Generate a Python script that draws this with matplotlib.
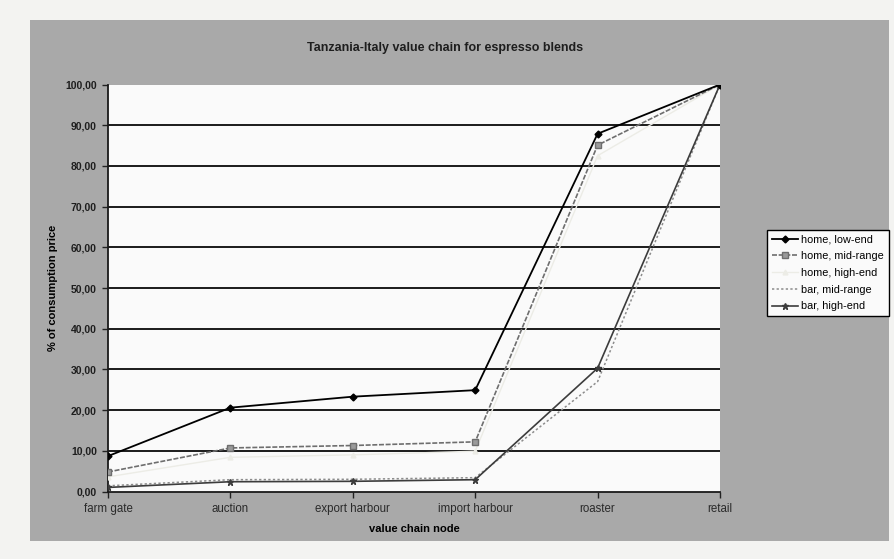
import matplotlib.pyplot as plt
import numpy as np
from matplotlib.patches import Rectangle
from matplotlib.ticker import FuncFormatter

plt.rcParams['font.family'] = ['Liberation Sans', 'DejaVu Sans']

# Data: share of consumption price at each node of the chain
nodes = ['farm gate', 'auction', 'export harbour', 'import harbour', 'roaster', 'retail']
home_low = [8.7, 20.6, 23.3, 24.9, 87.9, 100.0]
home_mid = [4.8, 10.7, 11.3, 12.2, 85.1, 100.0]
home_high = [3.6, 8.4, 9.0, 9.9, 82.5, 100.0]
bar_mid = [1.4, 2.9, 3.0, 3.4, 27.0, 100.0]
bar_high = [1.0, 2.4, 2.5, 2.9, 30.3, 100.0]
y_ticks = np.arange(0, 101, 10)

x = np.arange(len(nodes))

fig = plt.figure(figsize=(8.94, 5.59), dpi=100)
fig.patch.set_facecolor('#f3f3f1')
# grey chart area behind the plot
fig.patches.append(Rectangle((30 / 894, 18 / 559), 859 / 894, 521 / 559,
                             transform=fig.transFigure, facecolor='#a9a9a9',
                             edgecolor='none', zorder=-10))

ax = fig.add_axes([108 / 894, 67.5 / 559, 612 / 894, 407 / 559])
ax.set_facecolor('#fafafa')

ax.plot(x, home_low, color='black', lw=1.3, marker='D', ms=3.5, label='home, low-end', zorder=5)
ax.plot(x, home_mid, color='#6e6e6e', lw=1.2, ls=(0, (3, 1)), marker='s', ms=4,
        mfc='#9a9a9a', mec='#6e6e6e', label='home, mid-range', zorder=4)
ax.plot(x, home_high, color='#ecece6', lw=1.0, marker='^', ms=3.5,
        label='home, high-end', zorder=3)
ax.plot(x, bar_mid, color='#8c8c8c', lw=1.1, ls=(0, (1.5, 1.5)), label='bar, mid-range', zorder=3)
ax.plot(x, bar_high, color='#3c3c3c', lw=1.2, marker='*', ms=5, label='bar, high-end', zorder=4)

ax.set_xlim(0, 5)
ax.set_ylim(0, 100)
ax.set_yticks(y_ticks)
ax.yaxis.set_major_formatter(FuncFormatter(lambda v, p: f'{v:.2f}'.replace('.', ',')))
ax.set_xticks(x)
ax.set_xticklabels(nodes, fontsize=8.3, color='#2a2a2a')
for lbl in ax.get_yticklabels():
    lbl.set_fontweight('bold')
    lbl.set_fontsize(7.5)
    lbl.set_color('#1e1e1e')
ax.tick_params(axis='both', direction='out', length=4, width=1, color='#222222', pad=4)

# horizontal gridlines, none at the top edge
for v in y_ticks[1:-1]:
    ax.axhline(v, color='#1a1a1a', lw=1.4, zorder=1)

for side in ['top', 'right']:
    ax.spines[side].set_visible(False)
for side in ['left', 'bottom']:
    ax.spines[side].set_color('#1a1a1a')
    ax.spines[side].set_linewidth(1.3)

ax.set_xlabel('value chain node', fontsize=8, fontweight='bold', labelpad=7)
ax.set_ylabel('% of consumption price', fontsize=8, fontweight='bold', labelpad=5)
fig.text(445 / 894, 1 - 48 / 559, 'Tanzania-Italy value chain for espresso blends',
         ha='center', va='center', fontsize=9, fontweight='bold', color='#1e1e1e')

leg = ax.legend(loc='center', bbox_to_anchor=(828 / 894, 1 - 273 / 559),
                bbox_transform=fig.transFigure, fontsize=7.8, frameon=True,
                fancybox=False, edgecolor='black', facecolor='#fafafa', framealpha=1,
                handlelength=2.4, handletextpad=0.3, labelspacing=0.62,
                borderpad=0.45, borderaxespad=0)
leg.get_frame().set_linewidth(1.0)

fig.savefig('out.png', dpi=100, facecolor=fig.get_facecolor())
